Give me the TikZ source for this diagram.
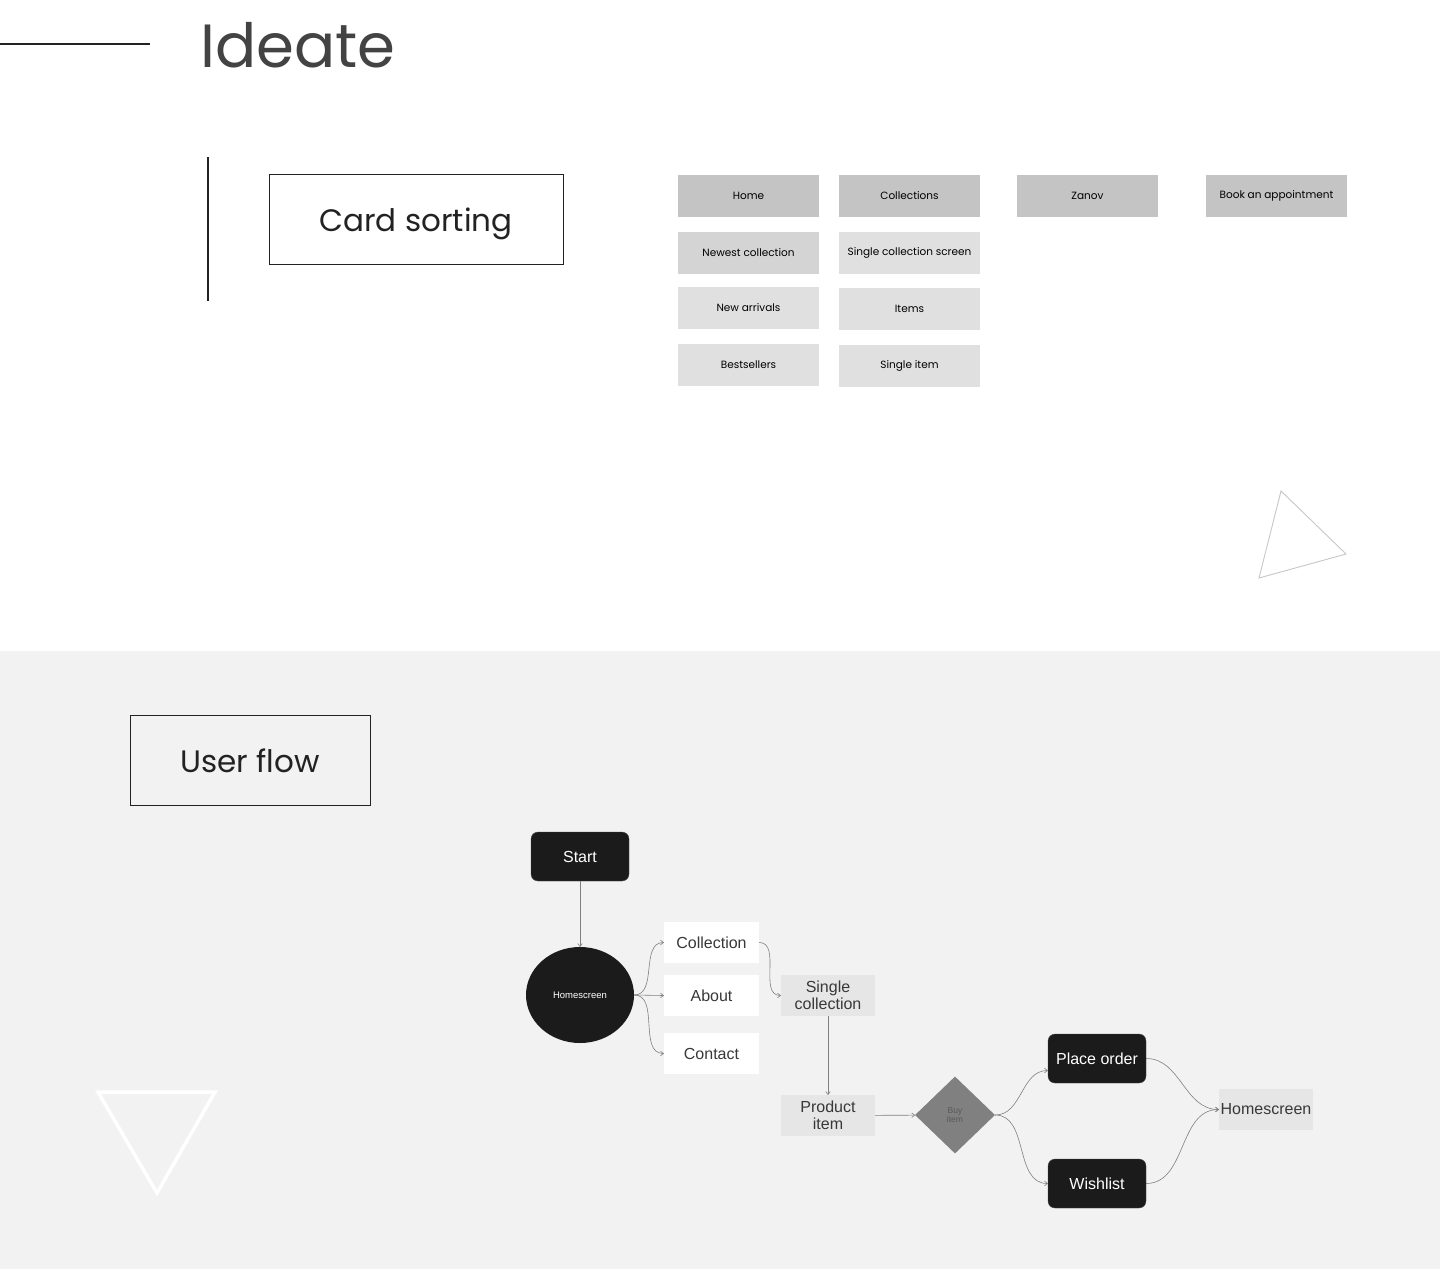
\documentclass[tikz,border=0pt]{standalone}
\usepackage{fontspec}
\setmainfont{Poppins}
\newfontfamily\arialf{Liberation Sans}
\usetikzlibrary{arrows.meta,shapes.geometric}
\definecolor{darkbox}{HTML}{1B1B1B}
\definecolor{bgrey}{HTML}{F2F2F2}
\definecolor{carddark}{HTML}{C4C4C4}
\definecolor{cardmid}{HTML}{D4D4D4}
\definecolor{cardlight}{HTML}{E0E0E0}
\definecolor{flowlight}{HTML}{E6E6E6}
\definecolor{linegrey}{HTML}{808080}
\definecolor{txt}{HTML}{222222}
\newcommand{\fs}[1]{\fontsize{#1}{1.05\dimexpr #1pt\relax}\selectfont}
\tikzset{
  card/.style={minimum width=141pt, minimum height=42pt, inner sep=0pt, font=\fs{10.5}, text=black},
  titlebox/.style={draw=txt, line width=0.9pt, inner sep=0pt},
  titletext/.style={anchor=base, inner sep=0pt, text=txt, font=\fs{31}},
  darknode/.style={fill=darkbox, draw=darkbox!80!white, rounded corners=7pt, minimum width=98pt, minimum height=49pt, inner sep=0pt, text=white, font=\arialf\fs{16}},
  whitenode/.style={fill=white, minimum width=95pt, minimum height=41pt, inner sep=0pt, text=txt!90!white, font=\arialf\fs{16}},
  lightnode/.style={fill=flowlight, minimum width=94pt, minimum height=41pt, inner sep=0pt, text=txt!90!white, font=\arialf\fs{16}, align=center},
  conn/.style={draw=linegrey, line width=0.6pt, -{To[length=3.5pt,width=5pt]}},
}
\begin{document}
\begin{tikzpicture}[x=1pt,y=-1pt]
\useasboundingbox (0,0) rectangle (1440,1269);
\fill[white] (0,0) rectangle (1440,651);
\fill[bgrey] (0,651) rectangle (1440,1269);
% header
\draw[txt, line width=1.3pt] (0,44) coordinate (hl1) -- (150,44) coordinate (hl2);
\node[anchor=base west, inner sep=0pt, text=txt!85!white, font=\fs{61}] (ideate) at (200,67) {Ideate};
\draw[txt, line width=1.3pt] (208,157) coordinate (vl1) -- (208,301) coordinate (vl2);
\node[titlebox, minimum width=294pt, minimum height=90pt] (cardsort) at (416,219) {};
\node[titletext] (cardsorttxt) at (416,231) {Card sorting};
% cards
\node[card, fill=carddark] (home) at (748.5,196) {Home};
\node[card, fill=carddark] (colls) at (909.5,196) {Collections};
\node[card, fill=carddark] (zanov) at (1087.5,196) {Zanov};
\node[card, fill=carddark] (book) at (1276.5,195.5) {Book an appointment};
\node[card, fill=cardmid] (newest) at (748.5,253) {Newest collection};
\node[card, fill=cardlight] (singlecs) at (909.5,252.5) {Single collection screen};
\node[card, fill=cardlight] (newarr) at (748.5,308) {New arrivals};
\node[card, fill=cardlight] (items) at (909.5,309) {Items};
\node[card, fill=cardlight] (best) at (748.5,365) {Bestsellers};
\node[card, fill=cardlight] (singleitem) at (909.5,365.5) {Single item};
% triangle top right
\draw[draw=black!22, line width=0.9pt, line join=miter] (1281,491) -- (1346,554) -- (1259,578) -- cycle;
% user flow title
\node[titlebox, minimum width=240pt, minimum height=90pt] (userflow) at (250,760) {};
\node[titletext] (userflowtxt) at (250,772) {User flow};
% triangle bottom left
\draw[white, line width=3.5pt, line join=miter] (98,1092) -- (215,1092) -- (157,1193) -- cycle;
% flow nodes
\node[darknode] (start) at (580,856.5) {Start};
\node[ellipse, fill=darkbox, minimum width=108pt, minimum height=96pt, inner sep=0pt, text=white, font=\arialf\fs{9.5}] (home2) at (580,995) {Homescreen};
\node[whitenode] (collection) at (711.5,942.5) {Collection};
\node[whitenode] (about) at (711.5,995.5) {About};
\node[whitenode] (contact) at (711.5,1053.5) {Contact};
\node[lightnode] (singlecol) at (828,995.5) {Single\\collection};
\node[lightnode] (product) at (828,1115.5) {Product\\item};
\node[diamond, fill=linegrey, minimum width=80pt, minimum height=77pt, inner sep=0pt, text=black!65, font=\arialf\fs{8.5}, align=center] (buy) at (955,1115) {Buy\\item};
\node[darknode] (order) at (1097,1058.5) {Place order};
\node[darknode] (wish) at (1097,1183.5) {Wishlist};
\node[lightnode] (homeR) at (1266,1109.5) {Homescreen};
% connectors
\draw[conn] (start) -- (home2);
\draw[conn] (home2.east) to[out=0,in=180] (collection.west);
\draw[conn] (home2.east) -- (about.west);
\draw[conn] (home2.east) to[out=0,in=180] (contact.west);
\draw[conn] (collection.east) to[out=0,in=180] (singlecol.west);
\draw[conn] (singlecol) -- (product);
\draw[conn] (product) -- (buy);
\draw[conn] (buy.east) to[out=0,in=180] ([yshift=-12pt]order.west);
\draw[conn] (buy.east) to[out=0,in=180] (wish.west);
\draw[conn] (order.east) to[out=0,in=180] (homeR.west);
\draw[conn] (wish.east) to[out=0,in=180] (homeR.west);
\end{tikzpicture}
\end{document}
